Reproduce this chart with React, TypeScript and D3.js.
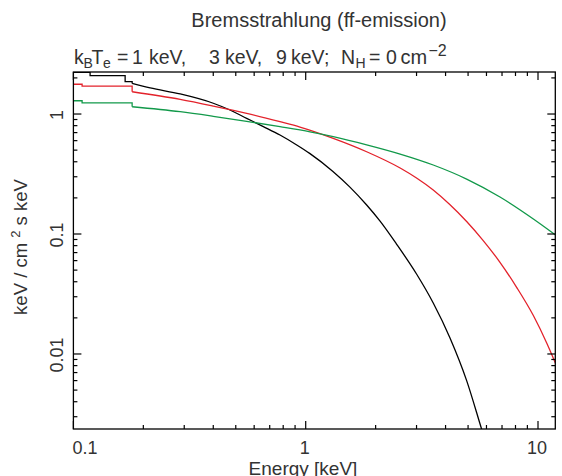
import React from 'react';
import * as d3 from 'd3';

const W = 562;
const H = 476;

// axis domains and ticks
const xDomain = [0.1, 11.87];
const yDomain = [0.00237, 2.24];
const xMajorTicks = [0.1, 1, 10];
const xTickLabels = ['0.1', '1', '10'];
const yMajorTicks = [1, 0.1, 0.01];
const yTickLabels = ['1', '0.1', '0.01'];
const minorMultipliers = [2, 3, 4, 5, 6, 7, 8, 9];
const decades = [0.001, 0.01, 0.1, 1];

// kT = 1 keV (black)
const blackBinEdges = [0.1, 0.118, 0.167, 0.179];
const blackBinValues = [2.22, 2.09, 1.86];
const blackEnergy = [0.179, 0.214, 0.288, 0.4, 0.472, 0.557, 0.657, 0.775, 0.915, 1.04, 1.31, 1.55, 1.83, 2.09, 2.46, 3.0, 3.54, 4.18, 4.93, 5.72, 6.0];
const blackFlux = [1.8, 1.65, 1.47, 1.23, 1.08, 0.921, 0.786, 0.668, 0.552, 0.47, 0.332, 0.246, 0.1745, 0.128, 0.0825, 0.0464, 0.0266, 0.0136, 0.006, 0.00236, 0.00175];

// kT = 3 keV (red)
const redBinEdges = [0.1, 0.109, 0.179];
const redBinValues = [1.77, 1.71];
const redEnergy = [0.179, 0.288, 0.4, 0.557, 0.775, 0.945, 1.314, 1.83, 2.55, 3.0, 3.54, 4.17, 4.93, 5.81, 6.86, 8.09, 9.55, 10.9, 11.9];
const redFlux = [1.534, 1.326, 1.166, 1.013, 0.863, 0.779, 0.627, 0.485, 0.355, 0.293, 0.2326, 0.1761, 0.1271, 0.0881, 0.0581, 0.03595, 0.0209, 0.01235, 0.00834];

// kT = 9 keV (green)
const greenBinEdges = [0.1, 0.109, 0.179];
const greenBinValues = [1.29, 1.24];
const greenEnergy = [0.179, 0.288, 0.4, 0.557, 0.775, 1.044, 1.314, 1.83, 2.55, 3.54, 4.93, 6.86, 9.55, 11.9];
const greenFlux = [1.15, 1.045, 0.957, 0.869, 0.785, 0.711, 0.648, 0.554, 0.464, 0.376, 0.287, 0.2034, 0.1334, 0.0981];

const FONT = '"Liberation Sans", Arial, Helvetica, sans-serif';
const TEXT = '#333';

export default function App() {
  const left = 73.4, right = 555.3, top = 72, bottom = 429;
  const x = d3.scaleLog().domain(xDomain).range([left, right]);
  const y = d3.scaleLog().domain(yDomain).range([bottom, top]);

  const series = [
    { color: '#000000', edges: blackBinEdges, bins: blackBinValues, e: blackEnergy, f: blackFlux },
    { color: '#e3222b', edges: redBinEdges, bins: redBinValues, e: redEnergy, f: redFlux },
    { color: '#12994a', edges: greenBinEdges, bins: greenBinValues, e: greenEnergy, f: greenFlux },
  ];

  const lin = d3.line<[number, number]>().x(d => x(d[0])).y(d => y(d[1]));
  const smooth = d3.line<[number, number]>().x(d => x(d[0])).y(d => y(d[1])).curve(d3.curveMonotoneX);

  const xMinor: number[] = [];
  [0.1, 1].forEach(d => minorMultipliers.forEach(m => { const v = m * d; if (v <= xDomain[1]) xMinor.push(v); }));
  const yMinor: number[] = [];
  decades.forEach(d => minorMultipliers.forEach(m => { const v = m * d; if (v >= yDomain[0] && v <= yDomain[1]) yMinor.push(v); }));

  const MAJ = 8, MIN = 4;
  const tickLines: JSX.Element[] = [];
  xMajorTicks.forEach((v, i) => {
    const px = x(v);
    tickLines.push(<line key={'xb' + i} x1={px} x2={px} y1={bottom} y2={bottom - MAJ} />);
    tickLines.push(<line key={'xt' + i} x1={px} x2={px} y1={top} y2={top + MAJ} />);
  });
  xMinor.forEach((v, i) => {
    const px = x(v);
    tickLines.push(<line key={'xbm' + i} x1={px} x2={px} y1={bottom} y2={bottom - MIN} />);
    tickLines.push(<line key={'xtm' + i} x1={px} x2={px} y1={top} y2={top + MIN} />);
  });
  yMajorTicks.forEach((v, i) => {
    const py = y(v);
    tickLines.push(<line key={'yl' + i} x1={left} x2={left + MAJ} y1={py} y2={py} />);
    tickLines.push(<line key={'yr' + i} x1={right} x2={right - MAJ} y1={py} y2={py} />);
  });
  yMinor.forEach((v, i) => {
    const py = y(v);
    tickLines.push(<line key={'ylm' + i} x1={left} x2={left + MIN} y1={py} y2={py} />);
    tickLines.push(<line key={'yrm' + i} x1={right} x2={right - MIN} y1={py} y2={py} />);
  });

  const subtitle: { t: string; x: number; k: 'n' | 'sub' | 'sup' }[] = [
    { t: 'k', x: 74, k: 'n' },
    { t: 'B', x: 83.5, k: 'sub' },
    { t: 'T', x: 91.5, k: 'n' },
    { t: 'e', x: 103, k: 'sub' },
    { t: '=', x: 117, k: 'n' },
    { t: '1', x: 132, k: 'n' },
    { t: 'keV,', x: 149, k: 'n' },
    { t: '3', x: 209, k: 'n' },
    { t: 'keV,', x: 225, k: 'n' },
    { t: '9', x: 276, k: 'n' },
    { t: 'keV;', x: 291, k: 'n' },
    { t: 'N', x: 341, k: 'n' },
    { t: 'H', x: 355.5, k: 'sub' },
    { t: '=', x: 369, k: 'n' },
    { t: '0', x: 386, k: 'n' },
    { t: 'cm', x: 400.5, k: 'n' },
    { t: '\u22122', x: 428.5, k: 'sup' },
  ];

  return (
    <svg width={W} height={H} style={{ position: 'absolute', left: 0, top: 0, background: '#fff' }} fontFamily={FONT}>
      <defs>
        <clipPath id="plotclip">
          <rect x={left} y={top} width={right - left} height={bottom - top} />
        </clipPath>
      </defs>
      <rect x={0} y={0} width={W} height={H} fill="#fff" />
      <text x={319} y={26.7} fontSize={20} fill={TEXT} textAnchor="middle">Bremsstrahlung (ff-emission)</text>
      {subtitle.map((p, i) => (
        <text key={'st' + i} x={p.x} y={p.k === 'sub' ? 67.5 : p.k === 'sup' ? 55.5 : 64}
          fontSize={p.k === 'n' ? (p.t === 'cm' ? 20 : 19.5) : p.k === 'sup' ? 16 : 14} fill={TEXT}>{p.t}</text>
      ))}
      <g clipPath="url(#plotclip)" fill="none" strokeWidth={1.3}>
        {series.map((s, i) => {
          const stepPts: [number, number][] = [];
          s.bins.forEach((v, j) => { stepPts.push([s.edges[j], v]); stepPts.push([s.edges[j + 1], v]); });
          stepPts.push([s.e[0], s.f[0]]);
          const smoothPts: [number, number][] = s.e.map((e, j) => [e, s.f[j]]);
          return (
            <g key={'s' + i} stroke={s.color}>
              <path d={lin(stepPts) || ''} />
              <path d={smooth(smoothPts) || ''} />
            </g>
          );
        })}
      </g>
      <g stroke="#000" strokeWidth={1.2}>
        {tickLines}
      </g>
      <rect x={left} y={top} width={right - left} height={bottom - top} fill="none" stroke="#000" strokeWidth={1.3} />
      {xMajorTicks.map((v, i) => (
        <text key={'xl' + i} x={x(v) - 1} y={454} fontSize={18} fill={TEXT}
          textAnchor={i === 0 ? 'start' : 'middle'}>{xTickLabels[i]}</text>
      ))}
      {yMajorTicks.map((v, i) => (
        <text key={'yl' + i} transform={`translate(63,${y(v) + 1}) rotate(-90)`} fontSize={18} fill={TEXT}
          textAnchor="middle">{yTickLabels[i]}</text>
      ))}
      <text x={303} y={474.5} fontSize={19} fill={TEXT} textAnchor="middle">Energy [keV]</text>
      <text transform="translate(27,247) rotate(-90)" fontSize={18.5} fill={TEXT} textAnchor="middle" style={{ whiteSpace: 'pre' }}>
        keV / cm <tspan fontSize={13} dy={-7}>2</tspan><tspan dy={7}> s keV</tspan>
      </text>
    </svg>
  );
}
